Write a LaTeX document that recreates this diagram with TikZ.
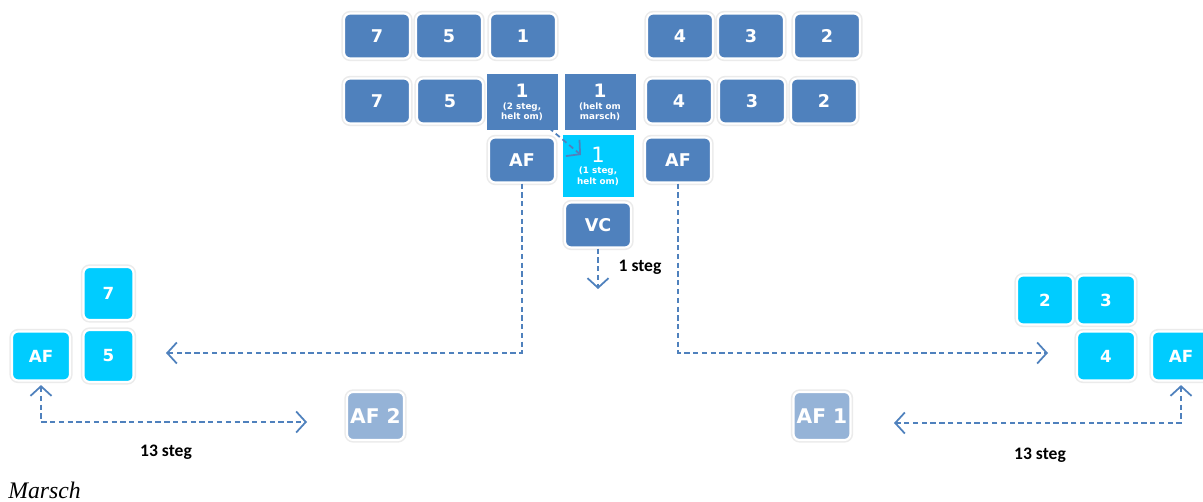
\documentclass[tikz,border=0pt]{standalone}
\usepackage{fontspec}
\setmainfont{Liberation Serif}
\newfontfamily\vfont{DejaVu Sans}
\newfontfamily\cfont{Carlito}
\usetikzlibrary{arrows.meta}
\definecolor{darkbl}{HTML}{4F81BD}
\definecolor{cyanbl}{HTML}{00CCFF}
\definecolor{palebl}{HTML}{95B3D7}
\newcommand\bignum[1]{{\fontsize{10.5}{10.5}\selectfont #1}}

\begin{document}
\begin{tikzpicture}[x=0.02cm, y=-0.02cm,
    >={Straight Barb[length=5.5pt,width=12pt]},
    tile/.style={rounded corners=3.5pt, draw=white, line width=1.2pt,
      preaction={draw=black!8, line width=3pt}, text=white, inner sep=0pt,
      font=\vfont\bfseries\fontsize{10}{11}\selectfont},
    dark/.style={tile, fill=darkbl, minimum width=1.32cm, minimum height=0.9cm},
    cyn/.style={tile, fill=cyanbl, minimum width=1.12cm, minimum height=0.98cm,
      font=\vfont\bfseries\fontsize{9.5}{10}\selectfont},
    pale/.style={tile, fill=palebl, minimum width=1.14cm, minimum height=0.96cm,
      font=\vfont\bfseries\fontsize{11.5}{12}\selectfont},
    sq/.style={fill=#1, text=white, inner sep=0pt, minimum width=1.42cm,
      minimum height=1.12cm, align=center,
      font=\vfont\bfseries\fontsize{5}{5.8}\selectfont},
    walk/.style={darkbl, line width=1pt, dash pattern=on 3pt off 2pt, ->},
    steps/.style={font=\cfont\bfseries\fontsize{10}{11}\selectfont}]
  \useasboundingbox (0,0) rectangle (1203,502);
  \clip (0,0) rectangle (1203,502);

  % start position
  \foreach \n/\x in {7/377,5/449,1/523,4/680,3/751,2/827}
    \node[dark] (a\n) at (\x,36) {\n};
  \foreach \n/\x in {7/377,5/450,4/679,3/752,2/824}
    \node[dark] (b\n) at (\x,101) {\n};
  \node[sq=darkbl] (b1) at (522,102) {\bignum{1}\\[1pt](2 steg,\\helt om)};
  \node[sq=darkbl] (c1) at (600,102) {\bignum{1}\\[1pt](helt om\\marsch)};
  \node[dark] (afL) at (522,160) {AF};
  \node[dark] (afR) at (678,160) {AF};
  \node[sq=cyanbl, minimum height=1.24cm] (d1) at (598,166)
    {{\mdseries\fontsize{12}{12}\selectfont 1}\\[1pt](1 steg,\\helt om)};
  \node[dark] (vc) at (598,225) {VC};

  % left group
  \node[cyn, minimum width=1cm, minimum height=1.06cm] (l7) at (108.5,293.5) {7};
  \node[cyn, minimum width=1cm, minimum height=1.04cm] (l5) at (108.5,356) {5};
  \node[cyn, minimum width=1.16cm] (lAF) at (41,356) {AF};
  \node[pale] (af2) at (375.5,416) {AF 2};

  % right group
  \node[cyn] (r2) at (1045,300) {2};
  \node[cyn, minimum width=1.16cm] (r3) at (1106,300) {3};
  \node[cyn, minimum width=1.16cm] (r4) at (1106,356) {4};
  \node[cyn, minimum width=1.16cm] (rAF) at (1181,356) {AF};
  \node[pale] (af1) at (822,416) {AF 1};

  \coordinate (dtop) at (549,128);
  \coordinate (dbot) at (581,155);
  \coordinate (vcend) at (598,289);
  \coordinate (lend) at (166,353);
  \coordinate (rend) at (1048,353);
  \coordinate (lbend) at (307,422);
  \coordinate (rbend) at (894,423);

  \draw[walk] (dtop) -- (dbot);
  \draw[walk] (vc.south) -- (vcend);
  \draw[walk] (afL.south) |- (lend);
  \draw[walk] (afR.south) |- (rend);
  \draw[walk, <->] ([yshift=-2pt]lAF.south) |- (lbend);
  \draw[walk, <->] ([yshift=-2pt]rAF.south) |- (rbend);

  \node[steps] (s1) at (640,267) {1 steg};
  \node[steps] (s13l) at (166,452) {13 steg};
  \node[steps] (s13r) at (1040,455) {13 steg};
  \node[anchor=west, inner sep=0pt, font=\itshape\fontsize{13.5}{15}\selectfont]
    (cap) at (8,490) {Marsch};
\end{tikzpicture}
\end{document}
